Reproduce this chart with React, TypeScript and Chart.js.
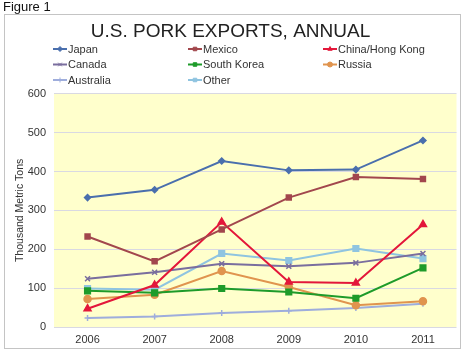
import React, { useEffect, useRef } from "react";
import { Chart, registerables } from "chart.js";
import { drawPoint } from "chart.js/helpers";

Chart.register(...registerables);

const years = ["2006", "2007", "2008", "2009", "2010", "2011"];
const japan = [333, 353, 427, 403, 405, 480];
const mexico = [233, 169, 251, 333, 386, 381];
const chinaHK = [47, 108, 270, 116, 113, 264];
const canada = [124, 141, 163, 156, 165, 189];
const southKorea = [93, 88, 99, 90, 74, 152];
const russia = [72, 83, 144, 103, 56, 66];
const australia = [23, 27, 36, 42, 49, 60];
const other = [99, 96, 189, 171, 202, 176];

const FONT = "Arial, 'Liberation Sans', sans-serif";

const legendPlugin = {
  id: "gridLegend",
  afterDraw(chart: any) {
    const ctx = chart.ctx as CanvasRenderingContext2D;
    ctx.save();
    chart.data.datasets.forEach((ds: any, i: number) => {
      const col = i % 3;
      const row = Math.floor(i / 3);
      const x = 53 + col * 135;
      const y = 49 + row * 15.5;
      ctx.strokeStyle = ds.borderColor;
      ctx.fillStyle = ds.borderColor;
      ctx.lineWidth = 2;
      ctx.beginPath();
      ctx.moveTo(x, y);
      ctx.lineTo(x + 14, y);
      ctx.stroke();
      ctx.lineWidth = 1;
      drawPoint(ctx, { pointStyle: ds.pointStyle, radius: 2.5, borderWidth: 1, rotation: 0 } as any, x + 7, y);
      ctx.fillStyle = "#333";
      ctx.font = `11px ${FONT}`;
      ctx.textBaseline = "middle";
      ctx.textAlign = "left";
      ctx.fillText(ds.label, x + 15, y + 0.5);
    });
    ctx.restore();
  },
};

const bgPlugin = {
  id: "plotBg",
  beforeDraw(chart: any) {
    const { ctx, chartArea } = chart;
    ctx.save();
    ctx.fillStyle = "#FFFFCC";
    ctx.fillRect(chartArea.left, chartArea.top, chartArea.right - chartArea.left, chartArea.bottom - chartArea.top);
    ctx.restore();
  },
};

function mk(label: string, data: number[], color: string, pointStyle: string, radius: number) {
  return {
    label,
    data,
    borderColor: color,
    backgroundColor: color,
    pointBackgroundColor: color,
    pointBorderColor: color,
    borderWidth: 2,
    pointStyle,
    pointRadius: radius,
    pointBorderWidth: 1.5,
    tension: 0,
  };
}

export default function App() {
  const ref = useRef<HTMLCanvasElement>(null);
  useEffect(() => {
    if (!ref.current) return;
    const chart = new Chart(ref.current, {
      type: "line",
      data: {
        labels: years,
        datasets: [
          mk("Japan", japan, "#4A6FAD", "rectRot", 3),
          mk("Mexico", mexico, "#A2474D", "rect", 3.5),
          mk("China/Hong Kong", chinaHK, "#E3173A", "triangle", 4),
          mk("Canada", canada, "#7A6E9E", "crossRot", 3.5),
          mk("South Korea", southKorea, "#1E9B2A", "rect", 4),
          mk("Russia", russia, "#E0944E", "circle", 3.5),
          mk("Australia", australia, "#9EADDC", "cross", 3),
          mk("Other", other, "#8FC4E0", "rect", 4),
        ] as any,
      },
      options: {
        animation: false,
        responsive: false,
        maintainAspectRatio: false,
        layout: { padding: { left: 4, right: 5, top: 0, bottom: 5 } },
        plugins: {
          legend: { display: false },
          tooltip: { enabled: false },
          title: {
            display: true,
            text: "U.S. PORK EXPORTS, ANNUAL",
            color: "#222",
            font: { family: FONT, size: 19, weight: "normal" as any, lineHeight: 1.2 },
            padding: { top: 20, bottom: 51 },
          },
        },
        scales: {
          x: {
            offset: true,
            grid: { display: false, drawTicks: false },
            border: { display: false },
            ticks: { color: "#333", font: { family: FONT, size: 11 }, padding: 6 },
            afterFit(scale: any) {
              scale.height = 21;
            },
          },
          y: {
            min: 0,
            max: 600,
            ticks: { stepSize: 100, color: "#333", font: { family: FONT, size: 11 }, padding: 8 },
            grid: { color: "#D9D9E2", drawTicks: false, lineWidth: 1 },
            border: { display: false },
            title: {
              display: true,
              text: "Thousand Metric Tons",
              color: "#333",
              font: { family: FONT, size: 10.5 },
              padding: { top: 10, bottom: 0 },
            },
            afterFit(scale: any) {
              scale.width = 50;
            },
          },
        },
      },
      plugins: [bgPlugin, legendPlugin],
    });
    return () => chart.destroy();
  }, []);

  return (
    <div style={{ position: "fixed", left: 0, top: 0, width: 462, height: 353, background: "#fff", fontFamily: FONT }}>
      <div style={{ position: "absolute", left: 3, top: -1, fontSize: 13, color: "#111" }}>Figure 1</div>
      <div
        style={{
          position: "absolute",
          left: 4,
          top: 14,
          width: 455,
          height: 333,
          border: "1px solid #C4C4C4",
          boxSizing: "content-box",
        }}
      />
      <canvas ref={ref} width={462} height={353} style={{ position: "absolute", left: 0, top: 0 }} />
    </div>
  );
}
